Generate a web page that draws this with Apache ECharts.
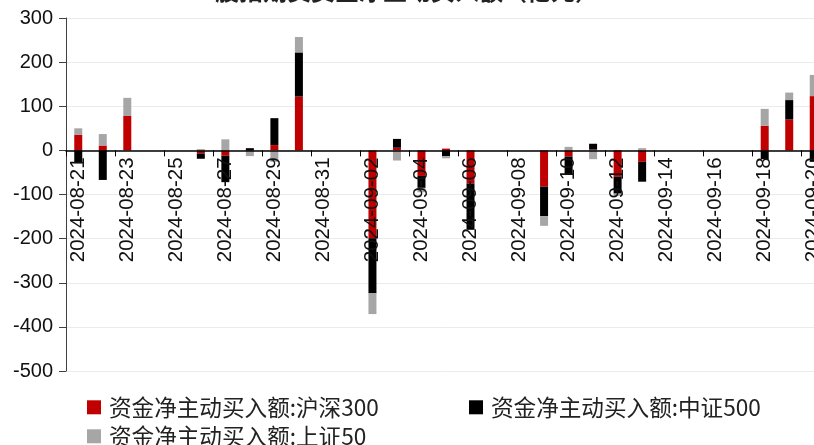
<!DOCTYPE html>
<html>
<head>
<meta charset="utf-8">
<script src="https://cdn.jsdelivr.net/npm/echarts@6/dist/echarts.min.js"></script>
<style>
html,body{margin:0;padding:0;background:#fff;}
#chart{width:814px;height:445px;}
</style>
</head>
<body>
<div id="chart"></div>
<script>
const categories = [
  '2024-08-21','2024-08-22','2024-08-23','2024-08-24','2024-08-25','2024-08-26','2024-08-27',
  '2024-08-28','2024-08-29','2024-08-30','2024-08-31','2024-09-01','2024-09-02','2024-09-03',
  '2024-09-04','2024-09-05','2024-09-06','2024-09-07','2024-09-08','2024-09-09','2024-09-10',
  '2024-09-11','2024-09-12','2024-09-13','2024-09-14','2024-09-15','2024-09-16','2024-09-17',
  '2024-09-18','2024-09-19','2024-09-20'
];
const hs300 = [35, 11, 78, null, null, -7, -12, -2, 12, 122, null, null, -199, 6, -58, 4, -75, null, null, -82, -14, 2, -60, -26, null, null, null, null, 56, 70, 123];
const zz500 = [-29, -67, 0, null, null, -12, -60, 5, 61, 100, null, null, -125, 20, -27, -13, -105, null, null, -67, -40, 13, -38, -45, null, null, null, null, -20, 44, -26];
const sz50  = [15, 26, 41, null, null, 3, 25, -11, -26, 35, null, null, -47, -23, -10, -5, 0, null, null, -22, 8, -20, -5, 5, null, null, null, null, 38, 17, 48];
const seriesNames = ['资金净主动买入额:沪深300', '资金净主动买入额:中证500', '资金净主动买入额:上证50'];
const titleText = '股指期货资金净主动买入额（亿元）';
const yMin = -500, yMax = 300, yStep = 100;

const W = 814, H = 445, gridTop = 18, gridBottom = 74;
const plotH = H - gridTop - gridBottom;
const zeroOffset = -plotH * (0 - yMin) / (yMax - yMin);

const chart = echarts.init(document.getElementById('chart'), null, {renderer: 'canvas'});
const legendText = {fontFamily: '"Noto Sans CJK SC", sans-serif', fontSize: 22.6, color: '#222', padding: [0, 0, 0, 3]};
const mkLegend = (name, left, top) => ({
  data: [name], left: left, top: top, orient: 'horizontal',
  itemWidth: 14, itemHeight: 14, icon: 'rect', padding: 0,
  textStyle: legendText
});
chart.setOption({
  animation: false,
  title: {
    text: titleText, left: 'center', top: -26,
    textStyle: {fontFamily: '"Noto Sans CJK SC", sans-serif', fontSize: 24, fontWeight: 'bold', color: '#222'}
  },
  legend: [
    mkLegend(seriesNames[0], 87, 396),
    mkLegend(seriesNames[1], 469, 396),
    mkLegend(seriesNames[2], 87, 425)
  ],
  grid: {left: 66, right: -12, top: gridTop, bottom: gridBottom, containLabel: false, outerBoundsMode: 'none'},
  xAxis: {
    type: 'category',
    data: categories,
    z: 10,
    position: 'bottom',
    offset: zeroOffset,
    axisLine: {onZero: false, lineStyle: {color: '#000', width: 1.5}},
    axisTick: {show: true, length: 6, lineStyle: {color: '#000'}},
    axisLabel: {
      interval: 1, rotate: 90, margin: 7, hideOverlap: false,
      fontFamily: '"Liberation Sans", Arial, sans-serif', fontSize: 20.5, color: '#111'
    },
    splitLine: {show: false}
  },
  yAxis: {
    type: 'value', min: yMin, max: yMax, interval: yStep,
    axisLine: {show: true, lineStyle: {color: '#404040', width: 1}},
    axisTick: {show: true, length: 7, lineStyle: {color: '#404040'}},
    axisLabel: {margin: 13, fontFamily: '"Liberation Sans", Arial, sans-serif', fontSize: 20, color: '#111'},
    splitLine: {show: true, lineStyle: {color: '#ebebeb', width: 1}}
  },
  series: [
    {name: seriesNames[0], type: 'bar', stack: 'all', stackStrategy: 'samesign', data: hs300, barWidth: 8, itemStyle: {color: '#c00000'}},
    {name: seriesNames[1], type: 'bar', stack: 'all', stackStrategy: 'samesign', data: zz500, barWidth: 8, itemStyle: {color: '#000000'}},
    {name: seriesNames[2], type: 'bar', stack: 'all', stackStrategy: 'samesign', data: sz50, barWidth: 8, itemStyle: {color: '#a6a6a6'}}
  ]
});
</script>
</body>
</html>
